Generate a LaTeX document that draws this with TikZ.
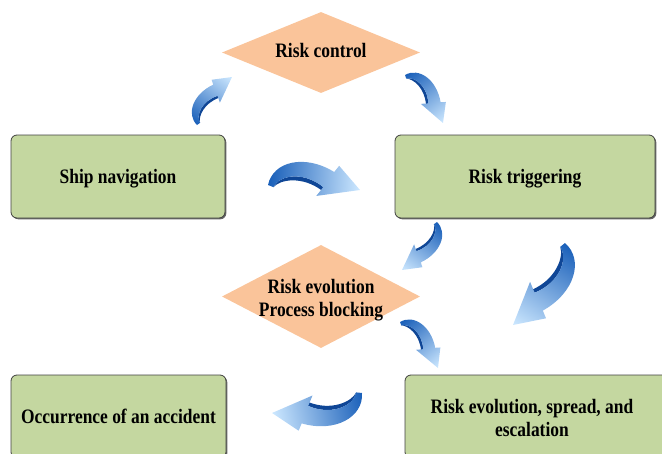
\documentclass[tikz,border=0pt]{standalone}
\usepackage{fontspec}
\setmainfont{Liberation Serif}
\newfontfamily\lblfont[FakeStretch=0.85]{Liberation Serif}
\usetikzlibrary{shapes.geometric,shadows,calc}
\definecolor{boxgreen}{RGB}{196,215,160}
\definecolor{boxline}{RGB}{64,64,64}
\definecolor{diampeach}{RGB}{250,196,154}
\definecolor{arrdark}{RGB}{25,95,185}
\definecolor{arrmid}{RGB}{80,155,228}
\definecolor{arrlight}{RGB}{205,232,255}
\definecolor{arrside}{RGB}{15,70,150}
\tikzset{
  lbl/.style={font=\lblfont\bfseries\fontsize{20.5}{22.5}\selectfont, text depth=0pt},
  boxnode/.style={rectangle, rounded corners=6pt, draw=boxline, line width=0.8pt,
    fill=boxgreen, align=center, inner sep=0pt,
    drop shadow={shadow xshift=1.3pt, shadow yshift=-1.3pt, fill=black!60, opacity=1}, lbl},
  diamnode/.style={diamond, fill=diampeach, draw=none, inner sep=0pt},
  txtnode/.style={align=center, inner sep=0pt, lbl},
  arrowshade/.style={left color=arrdark, middle color=arrmid, right color=arrlight},
  arrowsidefill/.style={fill=arrside},
}
\newcommand\arrowbody{(0,0) .. controls (4,-26) and (38,-36) .. (71,-18) -- (76,-25) -- (100,0) -- (53,9) -- (60,-1) .. controls (38,-17) and (12,-12) .. (6,2) -- cycle}
\newcommand\arrowstrip{(6,2) .. controls (12,-12) and (38,-17) .. (60,-1) -- (59,3) .. controls (37,-12) and (13,-7) .. (6,2) -- cycle}
\newcommand\bluearrow[2]{%
  \path let \p1=(#1), \p2=(#2) in \pgfextra{%
    \pgfmathsetmacro\tmpang{atan2(\y2-\y1,\x2-\x1)}%
    \pgfmathsetmacro\tmplen{veclen(\x2-\x1,\y2-\y1)/100}%
    \xdef\arrang{\tmpang}\xdef\arrlen{\tmplen}};
  \begin{scope}[transform canvas={shift={(#1)},rotate=\arrang,scale=\arrlen}]
    \fill[arrowsidefill] \arrowstrip;
    \shade[arrowshade] \arrowbody;
  \end{scope}}
\begin{document}
\begin{tikzpicture}[x=1pt,y=-1pt]
\useasboundingbox (0,0) rectangle (662,453);
\clip (0,0) rectangle (662,453);
% boxes
\node[boxnode, minimum width=214, minimum height=83] (ship) at (118,176.5) {Ship navigation};
\node[boxnode, minimum width=260, minimum height=83] (trig) at (525,176.5) {Risk triggering};
\node[boxnode, minimum width=215, minimum height=83] (occ) at (118.5,416.5) {Occurrence of an accident};
\node[boxnode, minimum width=264, minimum height=83] (spread) at (537,416.5) {};
\node[txtnode] (spreadtxt) at (532,418) {Risk evolution, spread, and\\escalation};
% diamonds
\node[diamnode, minimum width=198, minimum height=81] (ctrl) at (321,52.5) {};
\node[txtnode] (ctrltxt) at (321,50.5) {Risk control};
\node[diamnode, minimum width=198, minimum height=103] (evo) at (321,296.5) {};
\node[txtnode] (evotxt) at (321,298) {Risk evolution\\Process blocking};
% arrow end points
\coordinate (a1t) at (197,125); \coordinate (a1h) at (232,77);
\coordinate (a2t) at (405,75);  \coordinate (a2h) at (443,123);
\coordinate (a3t) at (268,185); \coordinate (a3h) at (360,190);
\coordinate (a4t) at (437,222); \coordinate (a4h) at (402,270);
\coordinate (a5t) at (565,243); \coordinate (a5h) at (513,325);
\coordinate (a6t) at (400,322); \coordinate (a6h) at (438,368);
\coordinate (a7t) at (362,393); \coordinate (a7h) at (272,413);
\bluearrow{a1t}{a1h}
\bluearrow{a2t}{a2h}
\bluearrow{a3t}{a3h}
\bluearrow{a4t}{a4h}
\bluearrow{a5t}{a5h}
\bluearrow{a6t}{a6h}
\bluearrow{a7t}{a7h}
\end{tikzpicture}
\end{document}
